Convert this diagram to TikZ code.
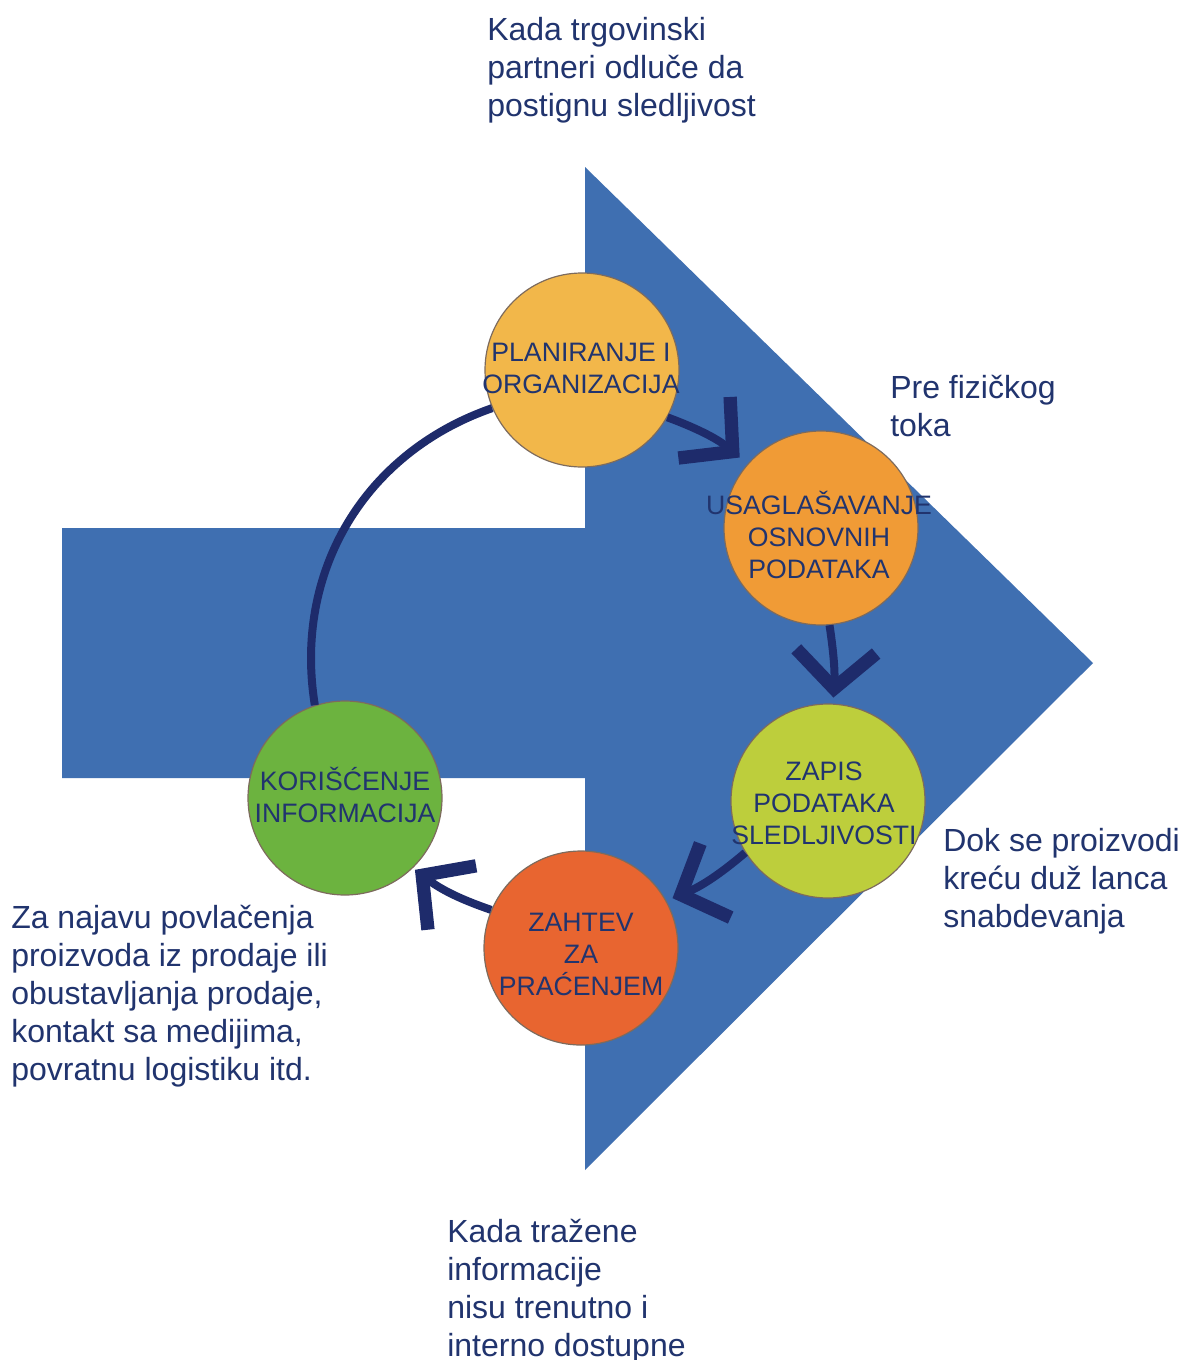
\documentclass[tikz,border=0pt]{standalone}
\usepackage{fontspec}
\setmainfont{Liberation Sans}
\usetikzlibrary{arrows.meta}
\definecolor{txt}{HTML}{21346E}
\definecolor{ring}{HTML}{1E2B6B}
\definecolor{bigblue}{HTML}{3F6FB1}
\definecolor{circborder}{HTML}{7D6B5D}
\definecolor{cPl}{HTML}{F2B74A}
\definecolor{cUs}{HTML}{F09B36}
\definecolor{cZp}{HTML}{BDCE3C}
\definecolor{cKo}{HTML}{6CB33F}
\definecolor{cZh}{HTML}{E86530}
\begin{document}
\begin{tikzpicture}[x=0.75pt,y=0.75pt,
  stage/.style={circle, draw=circborder, line width=0.9pt, minimum size=145.5pt, inner sep=0pt},
  stagetext/.style={text=txt, font=\fontsize{20}{24}\selectfont, align=center, inner sep=0pt},
  note/.style={text=txt, font=\fontsize{24}{28.5}\selectfont, align=left, inner sep=0pt, anchor=north west},
  flow/.style={draw=ring, line width=6pt},
  flowarrow/.style={flow, -{Straight Barb[length=28pt,width=60pt,line width=10pt]}},
]
\useasboundingbox (0,0) rectangle (1186,-1360);
\fill[white] (0,0) rectangle (1186,-1360);
% big blue arrow
\fill[bigblue] (62,-528) -- (585,-528) -- (585,-167) -- (1093,-663) -- (585,-1170) -- (585,-778) -- (62,-778) -- cycle;
% stages
\node[stage, fill=cPl] (pl) at (582,-370) {};
\node[stage, fill=cUs] (us) at (821,-528) {};
\node[stage, fill=cZp] (zp) at (828,-801) {};
\node[stage, fill=cZh] (zh) at (581,-948) {};
\node[stage, fill=cKo] (ko) at (345,-798) {};
% connectors
\draw[flowarrow, shorten >=7.5pt] (pl.-29) to[bend left=10] (us.139);
\draw[flowarrow, shorten >=4.5pt] (us.-85) to[bend left=6] (zp.87);
\draw[flowarrow, shorten >=5pt] (zp.212) to[bend left=9] (zh.29);
\draw[flowarrow, shorten >=2pt] (zh.157) to[bend left=9] (ko.-46);
\draw[flow] (ko.108) to[bend left=40] (pl.203);
% stage labels
\node[stagetext] (pl-t) at (581,-368) {PLANIRANJE I\\ORGANIZACIJA};
\node[stagetext] (us-t) at (819,-535) {USAGLAŠAVANJE\\OSNOVNIH\\PODATAKA};
\node[stagetext] (zp-t) at (824,-803) {ZAPIS\\PODATAKA\\SLEDLJIVOSTI};
\node[stagetext] (ko-t) at (345,-795) {KORIŠĆENJE\\INFORMACIJA};
\node[stagetext] (zh-t) at (581,-954) {ZAHTEV\\ZA\\PRAĆENJEM};
% notes
\node[note] (n1) at (487,-17.5) {Kada trgovinski\\partneri odluče da\\postignu sledljivost};
\node[note] (n2) at (890,-374.5) {Pre fizičkog\\toka};
\node[note] (n3) at (943,-828.5) {Dok se proizvodi\\kreću duž lanca\\snabdevanja};
\node[note] (n4) at (11,-904.5) {Za najavu povlačenja\\proizvoda iz prodaje ili\\obustavljanja prodaje,\\kontakt sa medijima,\\povratnu logistiku itd.};
\node[note] (n5) at (447,-1218.5) {Kada tražene\\informacije\\nisu trenutno i\\interno dostupne};
\end{tikzpicture}
\end{document}
